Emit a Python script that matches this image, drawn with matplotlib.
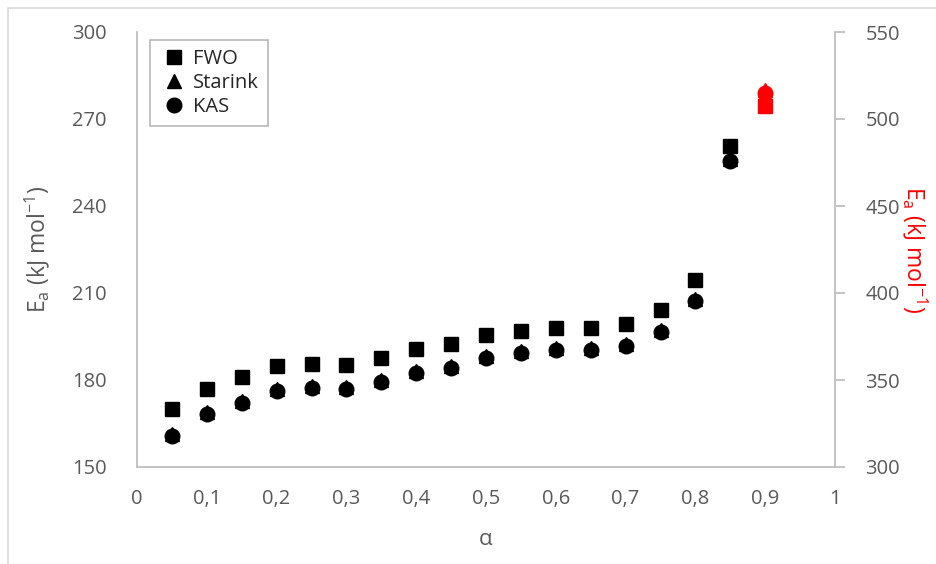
import matplotlib
matplotlib.use("Agg")
import matplotlib.pyplot as plt
from matplotlib.patches import Rectangle
from matplotlib.lines import Line2D

plt.rcParams['font.family'] = ['Open Sans', 'DejaVu Sans']
plt.rcParams['mathtext.fontset'] = 'custom'
plt.rcParams['mathtext.rm'] = 'Open Sans'

alpha = [0.05, 0.10, 0.15, 0.20, 0.25, 0.30, 0.35, 0.40, 0.45, 0.50,
         0.55, 0.60, 0.65, 0.70, 0.75, 0.80, 0.85]
fwo = [170.0, 177.0, 181.0, 184.8, 185.6, 185.0, 187.7, 190.8, 192.5, 195.6,
       197.0, 198.0, 198.0, 199.4, 204.2, 214.6, 260.6]
kas = [160.7, 168.3, 172.1, 176.3, 177.3, 177.0, 179.4, 182.5, 184.2, 187.7,
       189.4, 190.4, 190.4, 191.8, 196.6, 207.4, 255.4]
starink = [161.4, 169.0, 172.8, 177.0, 178.0, 177.7, 180.1, 183.2, 184.9, 188.4,
           190.1, 191.1, 191.1, 192.5, 197.3, 208.1, 256.1]

alpha_hi = [0.9]
fwo_hi = [507.7]
starink_hi = [516.5]
kas_hi = [515.2]

xticks = [0, 0.1, 0.2, 0.3, 0.4, 0.5, 0.6, 0.7, 0.8, 0.9, 1.0]
xticklabels = ['0', '0,1', '0,2', '0,3', '0,4', '0,5', '0,6', '0,7', '0,8', '0,9', '1']
yticks_left = [150, 180, 210, 240, 270, 300]
yticks_right = [300, 350, 400, 450, 500, 550]

gray = '#595959'
axis_gray = '#bfbfbf'

fig = plt.figure(figsize=(9.36, 5.64), dpi=100)
fig.patches.append(Rectangle((8/936, -0.1), 1.2, (564-8)/564 + 0.1, transform=fig.transFigure,
                             facecolor='none', edgecolor='#d9d9d9', linewidth=1.2, zorder=-5))

ax = fig.add_axes([137/936, (564-467)/564, (835-137)/936, (467-32)/564])
ax.set_facecolor('none')
ax2 = ax.twinx()

ms = 10.5
ax.plot(alpha, fwo, 's', color='black', markersize=ms, zorder=3)
ax.plot(alpha, starink, '^', color='black', markersize=ms, zorder=4)
ax.plot(alpha, kas, 'o', color='black', markersize=ms, zorder=5)

ax2.plot(alpha_hi, fwo_hi, 's', color='#ff0000', markersize=ms, zorder=3)
ax2.plot(alpha_hi, starink_hi, '^', color='#ff0000', markersize=ms, zorder=4)
ax2.plot(alpha_hi, kas_hi, 'o', color='#ff0000', markersize=ms, zorder=5)

ax.set_xlim(0, 1)
ax.set_ylim(150, 300)
ax2.set_ylim(300, 550)
ax.set_xticks(xticks)
ax.set_xticklabels(xticklabels)
ax.set_yticks(yticks_left)
ax2.set_yticks(yticks_right)

for a in (ax, ax2):
    for s in a.spines.values():
        s.set_visible(False)
ax.spines['left'].set_visible(True)
ax.spines['bottom'].set_visible(True)
ax2.spines['right'].set_visible(True)
for s in (ax.spines['left'], ax.spines['bottom'], ax2.spines['right']):
    s.set_color(axis_gray)
    s.set_linewidth(1.3)

fs = 14.5
ax.tick_params(axis='x', length=0, pad=16, labelsize=fs, labelcolor=gray)
ax.tick_params(axis='y', length=0, pad=22, labelsize=fs, labelcolor=gray)
ax2.tick_params(axis='y', length=7, width=1.3, color=axis_gray, direction='out',
                pad=15, labelsize=fs, labelcolor=gray)

ax.set_xlabel('α', fontsize=16, color=gray, labelpad=14)
ax.set_ylabel(r'E$_\mathregular{a}$ (kJ mol$^\mathregular{-1}$)', fontsize=16.5, color=gray, labelpad=14)
ax2.set_ylabel(r'E$_\mathregular{a}$ (kJ mol$^\mathregular{-1}$)', fontsize=16.5, color='#ff0000',
               rotation=270, labelpad=21)

handles = [Line2D([], [], marker='s', color='black', linestyle='none', markersize=10.5),
           Line2D([], [], marker='^', color='black', linestyle='none', markersize=10.5),
           Line2D([], [], marker='o', color='black', linestyle='none', markersize=10.5)]
leg = ax.legend(handles, ['FWO', 'Starink', 'KAS'], loc='upper left',
                bbox_to_anchor=(13/698, 1 - 8/435), fontsize=14.5, frameon=True,
                fancybox=False, edgecolor='#a6a6a6', handlelength=1.5, handletextpad=0.2,
                borderpad=0.45, labelspacing=0.2, borderaxespad=0)
leg.get_frame().set_linewidth(1.2)
for t in leg.get_texts():
    t.set_color('#262626')

fig.savefig('out.png', dpi=100)
